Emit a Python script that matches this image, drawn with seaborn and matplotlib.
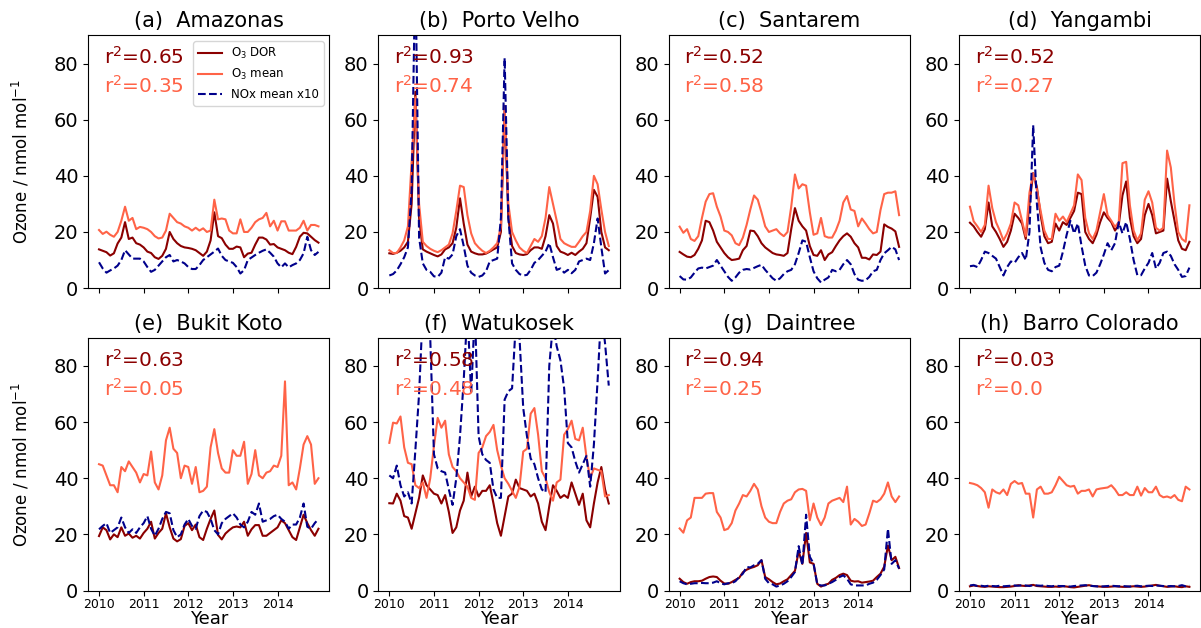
import numpy as np
import matplotlib
matplotlib.use('Agg')
import matplotlib.pyplot as plt
import seaborn as sns

# monthly values, Jan 2010 - Dec 2014
months = 2010 + np.arange(60) / 12.0

sites = ['Amazonas', 'Porto Velho', 'Santarem', 'Yangambi',
         'Bukit Koto', 'Watukosek', 'Daintree', 'Barro Colorado']
panel_letters = ['a', 'b', 'c', 'd', 'e', 'f', 'g', 'h']
r2_dor = ['0.65', '0.93', '0.52', '0.52', '0.63', '0.58', '0.94', '0.03']
r2_mean = ['0.35', '0.74', '0.58', '0.27', '0.05', '0.48', '0.25', '0.0']

dor_amazonas = [13.8, 13.3, 12.8, 11.6, 12.4, 15.9, 18.0, 23.5, 17.5, 18.0, 16.0, 15.5,
                14.5, 13.0, 12.5, 11.0, 10.4, 11.5, 14.0, 20.0, 17.5, 16.0, 15.0, 14.5,
                14.3, 14.0, 13.5, 12.5, 11.5, 13.0, 17.0, 27.0, 18.5, 17.8, 15.5, 14.0,
                14.0, 14.8, 14.5, 11.0, 12.3, 12.6, 15.5, 18.0, 18.0, 17.3, 15.5, 15.7,
                14.5, 14.0, 13.5, 12.6, 12.1, 14.7, 18.3, 19.7, 19.5, 18.3, 17.1, 16.2]
mean_amazonas = [20.7, 19.3, 20.1, 19.0, 18.3, 20.0, 24.0, 29.0, 24.0, 25.0, 21.0, 21.8,
                 21.5, 21.0, 20.0, 18.5, 17.7, 18.0, 20.5, 26.5, 25.0, 23.5, 23.0, 22.0,
                 21.5, 20.5, 21.5, 20.5, 21.3, 20.0, 20.5, 31.5, 24.5, 24.8, 24.5, 20.5,
                 19.5, 19.5, 24.5, 20.0, 20.0, 21.5, 23.5, 24.5, 25.0, 26.8, 22.0, 24.0,
                 20.5, 23.8, 23.8, 20.5, 20.5, 20.5, 21.5, 24.0, 20.5, 22.5, 22.5, 22.0]
nox_amazonas = [9.2, 7.0, 5.5, 6.3, 7.0, 8.0, 10.0, 13.5, 12.0, 10.5, 10.5, 10.5,
                9.5, 7.5, 5.8, 6.5, 8.0, 9.5, 11.0, 11.8, 9.5, 10.0, 9.5, 8.8,
                7.5, 6.8, 6.8, 8.2, 10.0, 11.0, 12.0, 13.0, 14.1, 11.5, 10.0, 9.5,
                9.0, 7.5, 5.2, 6.4, 10.0, 10.9, 11.8, 12.6, 13.3, 13.8, 12.6, 11.2,
                8.8, 7.4, 8.8, 7.4, 8.2, 8.8, 10.0, 12.4, 18.3, 13.5, 11.8, 12.9]

dor_porto_velho = [12.4, 12.2, 12.6, 13.3, 14.5, 16.5, 30.0, 70.0, 25.0, 13.8, 13.0, 12.4,
                   11.8, 11.3, 12.0, 13.8, 14.5, 16.0, 21.5, 32.0, 23.0, 15.5, 13.0, 12.4,
                   12.0, 12.0, 12.3, 13.0, 13.8, 14.5, 20.0, 64.0, 25.0, 15.0, 12.5, 12.0,
                   11.8, 12.1, 13.5, 14.5, 14.5, 14.0, 18.5, 26.0, 23.0, 15.0, 13.0, 12.5,
                   11.8, 12.6, 11.8, 13.0, 14.0, 16.0, 25.0, 35.0, 32.5, 20.0, 14.5, 13.5]
mean_porto_velho = [13.5, 12.5, 12.5, 14.5, 17.0, 22.0, 45.0, 68.0, 30.0, 16.5, 15.0, 14.0,
                    13.3, 12.8, 13.5, 14.5, 15.5, 19.5, 27.5, 36.5, 36.0, 26.0, 19.5, 16.0,
                    14.5, 13.3, 12.5, 13.3, 14.5, 16.0, 22.0, 65.0, 30.0, 20.0, 17.0, 14.5,
                    13.3, 12.5, 15.0, 17.5, 16.5, 18.5, 25.0, 36.0, 30.0, 24.0, 17.5, 16.0,
                    15.3, 14.7, 14.7, 16.5, 18.5, 20.0, 27.5, 40.0, 37.0, 28.0, 20.0, 15.0]
nox_porto_velho = [4.5, 5.0, 6.3, 8.5, 11.0, 14.5, 35.0, 115.0, 18.0, 8.8, 6.5, 5.8,
                   4.2, 4.0, 5.5, 11.0, 10.5, 12.0, 18.5, 21.0, 15.0, 8.0, 5.5, 4.5,
                   4.0, 4.5, 6.0, 9.5, 10.0, 10.5, 25.0, 82.0, 25.0, 8.8, 6.5, 5.0,
                   4.5, 4.7, 6.5, 9.0, 10.0, 11.5, 13.0, 16.0, 11.0, 6.5, 7.0, 5.5,
                   6.5, 5.3, 6.5, 9.5, 10.0, 10.5, 10.0, 16.0, 24.8, 14.5, 5.2, 6.4]

dor_santarem = [12.9, 12.0, 11.2, 11.0, 11.8, 14.0, 17.0, 24.0, 23.5, 20.5, 16.5, 14.5,
                12.5, 11.0, 10.0, 10.2, 10.5, 13.5, 15.0, 20.5, 20.3, 18.5, 16.0, 14.5,
                13.5, 12.5, 12.0, 11.8, 11.5, 12.5, 21.0, 28.5, 24.0, 22.0, 20.5, 15.0,
                11.8, 11.5, 13.5, 10.0, 12.0, 12.8, 15.0, 17.0, 18.5, 19.5, 18.3, 16.0,
                14.5, 10.8, 10.8, 10.2, 12.0, 11.8, 13.0, 22.7, 21.8, 21.2, 20.2, 14.7]
mean_santarem = [21.9, 19.7, 21.0, 17.5, 16.8, 18.5, 25.0, 30.8, 33.5, 33.8, 29.0, 25.5,
                 20.5, 20.0, 18.8, 16.0, 15.3, 18.0, 22.5, 28.0, 33.0, 31.5, 27.0, 22.0,
                 20.0, 20.5, 21.0, 19.5, 18.5, 20.0, 29.0, 40.5, 35.5, 37.0, 36.5, 27.0,
                 19.0, 19.5, 25.0, 18.5, 18.0, 18.0, 20.5, 24.0, 30.5, 32.8, 28.0, 27.5,
                 22.0, 24.8, 23.0, 21.0, 19.5, 20.0, 27.8, 33.5, 34.0, 34.0, 34.5, 26.0]
nox_santarem = [4.3, 3.1, 3.0, 3.8, 5.5, 7.0, 7.3, 7.0, 7.5, 8.0, 10.0, 8.0,
                6.0, 4.0, 2.6, 3.8, 5.5, 6.5, 6.8, 6.6, 7.2, 7.8, 8.3, 6.5,
                5.0, 3.5, 2.6, 3.5, 5.0, 6.0, 6.5, 8.5, 12.5, 17.0, 16.5, 11.0,
                6.0, 3.5, 2.0, 3.0, 3.8, 6.5, 6.0, 6.5, 8.5, 10.0, 8.5, 5.0,
                3.0, 2.6, 2.8, 4.0, 6.0, 6.5, 10.0, 12.4, 13.5, 14.7, 13.8, 10.0]

dor_yangambi = [23.3, 22.0, 20.0, 18.3, 21.0, 30.5, 22.0, 20.0, 17.5, 14.7, 16.5, 20.5,
                26.5, 25.0, 23.0, 17.5, 30.0, 41.0, 36.0, 26.0, 18.5, 16.0, 16.5, 23.0,
                20.5, 23.5, 22.5, 25.0, 27.5, 34.0, 33.5, 20.0, 17.5, 16.0, 19.0, 23.5,
                27.0, 25.0, 23.5, 20.5, 22.5, 33.0, 38.0, 25.0, 18.5, 16.0, 17.5, 26.0,
                30.0, 26.0, 19.5, 20.0, 20.5, 39.0, 31.0, 24.0, 17.0, 14.0, 13.5, 16.5]
mean_yangambi = [29.0, 23.8, 22.0, 20.0, 22.5, 36.5, 28.5, 23.5, 20.5, 17.0, 19.5, 23.0,
                 30.5, 29.5, 24.0, 18.5, 34.0, 41.0, 35.0, 27.5, 20.5, 17.5, 17.5, 26.5,
                 24.0, 25.5, 23.5, 26.5, 29.5, 40.5, 38.5, 25.0, 19.5, 17.5, 20.5, 27.0,
                 33.5, 26.0, 24.0, 21.8, 23.5, 44.5, 45.0, 29.5, 20.5, 17.0, 19.5, 31.5,
                 34.5, 30.5, 21.5, 20.5, 21.5, 49.0, 43.0, 30.0, 20.0, 17.5, 16.5, 29.5]
nox_yangambi = [7.8, 8.0, 7.5, 10.0, 13.0, 12.5, 11.5, 10.5, 7.5, 4.5, 7.5, 9.5,
                9.0, 11.0, 12.5, 10.0, 20.0, 58.0, 30.0, 14.5, 9.0, 6.5, 6.0, 7.5,
                8.0, 13.0, 19.0, 24.0, 19.5, 23.0, 15.0, 8.0, 4.5, 4.3, 5.5, 8.5,
                12.0, 16.0, 13.5, 16.0, 23.5, 19.5, 23.5, 17.5, 10.0, 4.6, 4.6, 7.0,
                9.0, 12.5, 7.0, 9.0, 12.5, 13.0, 11.5, 8.5, 6.5, 4.0, 4.3, 7.3]

dor_bukit_koto = [19.4, 22.5, 21.5, 18.2, 20.0, 19.0, 22.5, 19.5, 20.3, 18.8, 19.5, 18.5,
                  20.5, 22.0, 24.5, 18.5, 20.5, 22.0, 27.5, 22.5, 18.5, 17.5, 18.3, 23.0,
                  24.0, 21.5, 23.5, 19.0, 18.0, 22.0, 25.5, 28.5, 19.8, 18.2, 20.3, 21.5,
                  22.5, 22.8, 22.5, 24.5, 19.5, 21.8, 23.3, 23.3, 19.5, 19.5, 20.5, 21.5,
                  22.5, 25.0, 24.0, 21.5, 19.0, 18.0, 22.5, 27.0, 24.0, 21.5, 19.5, 22.0]
mean_bukit_koto = [45.0, 44.5, 41.0, 37.5, 37.5, 35.0, 44.0, 42.5, 46.0, 44.0, 42.0, 38.5,
                   41.5, 41.0, 49.5, 38.5, 36.0, 41.0, 53.5, 58.0, 50.5, 49.0, 40.0, 44.5,
                   44.0, 38.0, 44.0, 35.0, 35.5, 37.0, 51.0, 57.5, 49.0, 43.5, 42.0, 42.0,
                   50.0, 48.0, 48.0, 53.0, 38.0, 41.5, 50.0, 41.0, 40.0, 42.0, 42.5, 44.5,
                   44.0, 48.0, 74.5, 37.5, 38.5, 36.0, 43.5, 52.0, 55.0, 52.0, 38.0, 40.0]
nox_bukit_koto = [21.8, 23.0, 24.0, 20.5, 21.5, 22.5, 26.0, 22.5, 20.5, 21.8, 20.5, 22.5,
                  24.0, 26.5, 22.0, 19.5, 22.0, 25.5, 28.0, 27.5, 21.5, 19.0, 20.0, 23.5,
                  25.5, 23.0, 22.0, 26.5, 28.5, 28.0, 25.5, 21.5, 20.0, 24.0, 25.5, 26.5,
                  27.5, 26.0, 23.5, 22.5, 24.5, 28.0, 27.0, 31.0, 24.5, 25.0, 25.5, 26.5,
                  27.0, 25.5, 24.5, 22.0, 23.5, 23.5, 26.0, 31.0, 22.7, 22.0, 24.0, 25.5]

dor_watukosek = [31.1, 31.0, 34.5, 32.0, 26.5, 26.0, 22.0, 27.5, 33.0, 41.0, 37.5, 36.0,
                 34.5, 34.0, 31.0, 34.0, 28.0, 20.5, 22.5, 28.5, 32.0, 42.0, 33.5, 37.0,
                 33.5, 35.5, 35.5, 37.5, 31.0, 24.0, 19.5, 26.5, 33.5, 34.5, 39.5, 36.5,
                 36.0, 35.5, 33.5, 34.5, 31.0, 24.5, 21.5, 30.0, 37.5, 35.5, 33.0, 34.0,
                 33.0, 38.5, 34.5, 30.5, 34.5, 25.0, 22.5, 31.0, 38.5, 44.0, 36.0, 31.0]
mean_watukosek = [52.6, 59.8, 59.5, 62.0, 51.0, 45.5, 45.0, 37.5, 36.5, 38.5, 33.0, 40.0,
                  51.5, 61.5, 58.0, 60.5, 48.5, 44.0, 42.5, 40.0, 38.5, 37.0, 33.0, 32.3,
                  49.0, 51.0, 55.0, 56.5, 59.0, 50.0, 44.5, 40.0, 38.0, 35.5, 33.0, 37.0,
                  49.5, 50.5, 63.0, 65.0, 55.5, 42.5, 40.0, 35.0, 32.0, 38.5, 39.5, 55.5,
                  57.5, 60.5, 54.0, 53.5, 58.0, 47.5, 40.0, 43.5, 43.0, 42.5, 33.5, 34.0]
nox_watukosek = [41.0, 40.0, 44.5, 37.5, 33.5, 35.0, 31.0, 50.0, 70.0, 100.0, 105.0, 90.0,
                 48.5, 43.5, 42.5, 42.0, 36.0, 30.5, 40.0, 55.0, 75.0, 100.0, 70.0, 100.0,
                 55.0, 48.5, 46.5, 45.5, 36.0, 33.0, 33.0, 68.0, 71.0, 72.0, 95.0, 90.0,
                 65.0, 55.0, 47.0, 45.0, 40.0, 36.0, 35.0, 80.0, 95.0, 87.0, 82.0, 72.0,
                 52.5, 51.0, 46.0, 42.0, 45.0, 48.0, 37.0, 52.0, 75.0, 100.0, 88.0, 73.0]

dor_daintree = [4.2, 3.0, 2.4, 3.0, 3.3, 3.3, 3.5, 4.2, 4.8, 5.0, 4.8, 3.5,
                2.5, 2.4, 3.0, 3.8, 4.5, 6.5, 7.4, 8.0, 8.4, 9.0, 10.8, 4.8,
                4.0, 3.0, 2.2, 2.5, 3.3, 4.0, 5.5, 7.0, 14.0, 9.5, 20.5, 10.0,
                9.5, 2.4, 1.4, 2.0, 2.4, 3.8, 4.5, 5.5, 6.0, 5.5, 3.5, 3.2,
                3.3, 2.8, 3.0, 3.2, 3.5, 4.8, 6.0, 8.5, 16.0, 10.8, 12.0, 8.0]
mean_daintree = [22.1, 20.6, 25.0, 26.0, 33.0, 33.0, 33.0, 34.5, 34.7, 34.7, 28.0, 26.0,
                 21.5, 22.0, 24.0, 28.5, 31.0, 34.0, 33.5, 35.5, 38.0, 36.0, 30.0, 26.0,
                 24.5, 24.0, 24.0, 28.0, 31.0, 32.0, 32.5, 35.0, 36.0, 36.2, 35.5, 25.0,
                 31.0, 26.0, 23.3, 26.0, 31.0, 32.0, 32.5, 33.0, 31.5, 37.0, 23.5, 25.5,
                 24.5, 23.0, 23.5, 27.5, 32.0, 31.5, 32.5, 34.5, 38.5, 33.5, 31.5, 33.5]
nox_daintree = [3.3, 2.6, 2.2, 2.4, 2.6, 2.6, 2.7, 2.6, 2.6, 2.8, 3.3, 2.6,
                2.2, 2.6, 2.6, 3.3, 4.8, 6.0, 8.4, 8.2, 9.0, 9.5, 10.8, 4.2,
                2.6, 2.2, 1.4, 1.8, 2.4, 3.3, 4.8, 6.6, 15.8, 9.0, 27.0, 12.0,
                9.6, 2.2, 1.8, 1.8, 2.4, 3.0, 3.8, 4.8, 5.4, 4.2, 2.2, 1.8,
                1.8, 1.8, 1.8, 2.4, 2.8, 3.8, 5.5, 7.5, 22.0, 9.5, 10.8, 7.8]

dor_barro_colorado = [1.5, 1.8, 1.6, 1.4, 1.3, 1.5, 1.4, 1.3, 1.2, 1.2, 1.3, 1.4,
                      1.6, 1.9, 1.7, 1.6, 1.8, 2.0, 1.6, 1.5, 1.4, 1.3, 1.3, 1.4,
                      1.3, 1.5, 1.4, 1.2, 1.1, 1.3, 1.5, 1.7, 1.9, 1.6, 1.5, 1.4,
                      1.3, 1.3, 1.4, 1.5, 1.4, 1.3, 1.3, 1.4, 1.5, 1.4, 1.3, 1.4,
                      1.6, 1.8, 2.0, 1.7, 1.5, 1.3, 1.4, 1.5, 1.3, 1.2, 1.5, 1.3]
mean_barro_colorado = [38.3, 38.0, 37.5, 36.5, 35.0, 29.5, 36.0, 35.0, 34.5, 36.0, 34.0, 38.0,
                       39.0, 38.0, 38.3, 34.5, 34.5, 26.0, 36.0, 37.0, 34.5, 34.5, 35.0, 37.5,
                       40.5, 39.0, 37.5, 37.0, 37.3, 34.5, 35.5, 35.5, 36.0, 33.5, 36.0, 36.3,
                       36.5, 36.7, 37.5, 36.0, 34.0, 34.0, 35.0, 34.0, 34.0, 37.0, 33.8, 36.5,
                       35.0, 35.0, 37.0, 34.0, 33.2, 33.5, 33.0, 34.0, 32.3, 31.8, 37.0, 36.0]
nox_barro_colorado = [1.8, 2.0, 1.6, 1.7, 1.5, 1.7, 1.6, 1.5, 1.7, 1.5, 1.6, 1.7,
                      1.8, 1.7, 1.9, 1.8, 1.6, 1.9, 1.8, 1.7, 1.8, 1.6, 1.5, 1.7,
                      1.6, 1.6, 1.5, 1.4, 1.6, 1.7, 1.8, 1.9, 1.7, 1.6, 1.5, 1.4,
                      1.5, 1.6, 1.7, 1.6, 1.5, 1.6, 1.5, 1.4, 1.6, 1.7, 1.5, 1.6,
                      1.7, 1.6, 1.8, 1.7, 1.6, 1.5, 1.6, 1.5, 1.6, 1.9, 1.5, 1.7]

dor_series = [dor_amazonas, dor_porto_velho, dor_santarem, dor_yangambi,
              dor_bukit_koto, dor_watukosek, dor_daintree, dor_barro_colorado]
mean_series = [mean_amazonas, mean_porto_velho, mean_santarem, mean_yangambi,
               mean_bukit_koto, mean_watukosek, mean_daintree, mean_barro_colorado]
nox_series = [nox_amazonas, nox_porto_velho, nox_santarem, nox_yangambi,
              nox_bukit_koto, nox_watukosek, nox_daintree, nox_barro_colorado]

dor_color = 'darkred'
mean_color = 'tomato'
nox_color = 'darkblue'

fig, axes = plt.subplots(2, 4, figsize=(12.01, 6.28), dpi=100, sharex=True)
fig.subplots_adjust(left=0.0733, right=0.9995, bottom=0.0597, top=0.9435,
                    wspace=0.2025, hspace=0.197)

for k, ax in enumerate(axes.flat):
    first = (k == 0)
    sns.lineplot(x=months, y=dor_series[k], ax=ax, color=dor_color, linewidth=1.5,
                 label='O$_3$ DOR' if first else None)
    sns.lineplot(x=months, y=mean_series[k], ax=ax, color=mean_color, linewidth=1.5,
                 label='O$_3$ mean' if first else None)
    sns.lineplot(x=months, y=nox_series[k], ax=ax, color=nox_color, linewidth=1.5,
                 linestyle='--', label='NOx mean x10' if first else None)

    ax.set_ylim(0, 90)
    ax.set_yticks([0, 20, 40, 60, 80])
    ax.set_xticks([2010, 2011, 2012, 2013, 2014])
    ax.tick_params(axis='y', labelsize=14)
    ax.tick_params(axis='x', labelsize=9, pad=2)
    ax.set_title('(%s)  %s' % (panel_letters[k], sites[k]), fontsize=15)
    ax.text(0.065, 0.915, 'r$^2$=' + r2_dor[k], transform=ax.transAxes,
            color=dor_color, fontsize=14.5, va='center')
    ax.text(0.065, 0.80, 'r$^2$=' + r2_mean[k], transform=ax.transAxes,
            color=mean_color, fontsize=14.5, va='center')
    ax.set_xlabel('Year' if k >= 4 else '', fontsize=13, labelpad=-1)
    ax.set_ylabel('Ozone / nmol mol$^{-1}$' if k % 4 == 0 else '', fontsize=12,
                  labelpad=16)
    if first:
        ax.legend(loc='upper right', fontsize=8.5)
    elif ax.get_legend() is not None:
        ax.get_legend().remove()

axes[0, 0].set_xlim(2009.754, 2015.163)

plt.savefig('out.png', dpi=100)
